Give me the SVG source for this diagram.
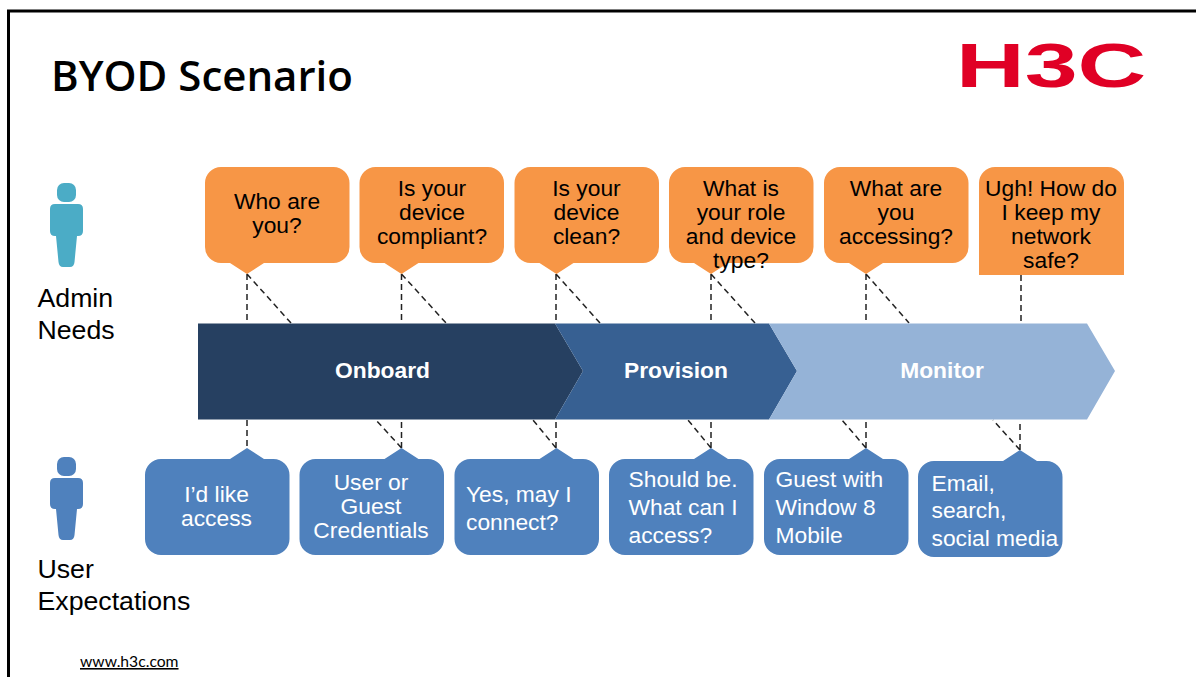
<svg xmlns="http://www.w3.org/2000/svg" width="1196" height="677" viewBox="0 0 1196 677">
<style>
text{font-family:"Liberation Sans",Arial,sans-serif}
.b{font-size:22.8px;fill:#000;text-anchor:middle}
.w{font-size:22.8px;fill:#fff;text-anchor:middle}
.l{font-size:22.8px;fill:#fff}
.s{font-size:26.7px;fill:#000}
.c{font-size:22.8px;font-weight:bold;fill:#fff;text-anchor:middle}
.o{fill:#F79646}
.u{fill:#4F81BD}
.d{stroke:#222;stroke-width:1.5;stroke-dasharray:6 4;fill:none}
</style>
<defs>
<path id="ob" d="M16 0H128.500A16 16 0 0 1 144.500 16V80A16 16 0 0 1 128.500 96H59L42 107L25 96H16A16 16 0 0 1 0 80V16A16 16 0 0 1 16 0Z"/>
<path id="ub" d="M16 11H85L102 0L119 11H128.500A16 16 0 0 1 144.500 27V91A16 16 0 0 1 128.500 107H16A16 16 0 0 1 0 91V27A16 16 0 0 1 16 11Z"/>
</defs>
<rect width="1196" height="677" fill="#fff"/>
<path id="frame" d="M1196 11H8.500V677" fill="none" stroke="#000" stroke-width="3"/>
<text id="title" x="51" y="91" style="font-family:'Open Sans',sans-serif;font-weight:600;font-size:42px" fill="#000">BYOD Scenario</text>
<g id="logo"><text transform="translate(956 86.500) scale(1.51 1)" style="font-size:63px;font-weight:bold" fill="#E00025">H3C</text></g>

<g id="connectors" class="d">
<path d="M247 274V323M247 274L291 323M401.500 274V323M401.500 274L446 323M556 274V323M556 274L600 323M711 274V323M711 274L755 323M866 274V323M866 274L909 323M1021 275V323"/>
<path d="M247 420V448M401.500 448V420M401.500 448L376 420M556 448V420M556 448L533 420M711 448V420M711 448L688 420M866 448V420M866 448L842 420M1020 450V420M1020 450L993 420"/>
</g>

<g id="admin-icon"><rect x="57" y="183" width="19" height="19" rx="7" fill="#4BACC6"/><path fill="#4BACC6" d="M55 204H78Q83 204 83 209V231Q83 236 78 236H77L74.500 262Q74 267 70 267H63Q59 267 58.500 262L56 236H55Q50 236 50 231V209Q50 204 55 204Z"/></g>
<g id="user-icon"><rect x="57" y="457" width="19" height="19" rx="7" fill="#4F81BD"/><path fill="#4F81BD" d="M55 478H78Q83 478 83 483V504Q83 509 78 509H77L74.500 535Q74 540 70 540H63Q59 540 58.500 535L56 509H55Q50 509 50 504V483Q50 478 55 478Z"/></g>
<g id="admin-label"><text class="s" x="37.500" y="307">Admin</text><text class="s" x="37.500" y="339">Needs</text></g>
<g id="user-label"><text class="s" x="37.500" y="578">User</text><text class="s" x="37.500" y="610">Expectations</text></g>

<g id="onboard"><path fill="#264061" d="M198 323.500H555L583 371L555 419.500H198Z"/><text class="c" x="382.500" y="378">Onboard</text></g>
<g id="provision"><path fill="#376092" d="M555 323.500H769L797 371L769 419.500H555L583 371Z"/><text class="c" x="676" y="378">Provision</text></g>
<g id="monitor"><path fill="#95B3D7" d="M769 323.500H1087L1115 371L1087 419.500H769L797 371Z"/><text class="c" x="942" y="378">Monitor</text></g>

<g id="q1"><use href="#ob" class="o" x="205" y="167"/><text class="b" x="277" y="209">Who are</text><text class="b" x="277" y="233">you?</text></g>
<g id="q2"><use href="#ob" class="o" x="359.500" y="167"/><text class="b" x="432" y="196">Is your</text><text class="b" x="432" y="220">device</text><text class="b" x="432" y="244">compliant?</text></g>
<g id="q3"><use href="#ob" class="o" x="514.500" y="167"/><text class="b" x="586.500" y="196">Is your</text><text class="b" x="586.500" y="220">device</text><text class="b" x="586.500" y="244">clean?</text></g>
<g id="q4"><use href="#ob" class="o" x="669" y="167"/><text class="b" x="741" y="196">What is</text><text class="b" x="741" y="220">your role</text><text class="b" x="741" y="244">and device</text><text class="b" x="741" y="268">type?</text></g>
<g id="q5"><use href="#ob" class="o" x="824" y="167"/><text class="b" x="896" y="196">What are</text><text class="b" x="896" y="220">you</text><text class="b" x="896" y="244">accessing?</text></g>
<g id="q6"><path class="o" d="M995 167H1108A16 16 0 0 1 1124 183V275H979V183A16 16 0 0 1 995 167Z"/><text class="b" x="1051" y="196">Ugh! How do</text><text class="b" x="1051" y="220">I keep my</text><text class="b" x="1051" y="244">network</text><text class="b" x="1051" y="268">safe?</text></g>

<g id="a1"><use href="#ub" class="u" x="145" y="448"/><text class="w" x="216.500" y="502">I’d like</text><text class="w" x="216.500" y="526">access</text></g>
<g id="a2"><use href="#ub" class="u" x="299.500" y="448"/><text class="w" x="371" y="490">User or</text><text class="w" x="371" y="514">Guest</text><text class="w" x="371" y="538">Credentials</text></g>
<g id="a3"><use href="#ub" class="u" x="454.500" y="448"/><text class="l" x="466" y="502">Yes, may I</text><text class="l" x="466" y="530">connect?</text></g>
<g id="a4"><use href="#ub" class="u" x="609" y="448"/><text class="l" x="628.500" y="487">Should be.</text><text class="l" x="628.500" y="515">What can I</text><text class="l" x="628.500" y="543">access?</text></g>
<g id="a5"><use href="#ub" class="u" x="764" y="448"/><text class="l" x="775.500" y="487">Guest with</text><text class="l" x="775.500" y="515">Window 8</text><text class="l" x="775.500" y="543">Mobile</text></g>
<g id="a6"><use href="#ub" class="u" x="918" y="450"/><text class="l" x="931.500" y="491">Email,</text><text class="l" x="931.500" y="518">search,</text><text class="l" x="931.500" y="546">social media</text></g>

<text id="url" x="80" y="667" style="font-family:Lato,sans-serif;font-size:15.7px;text-decoration:underline" fill="#000">www.h3c.com</text>
</svg>
